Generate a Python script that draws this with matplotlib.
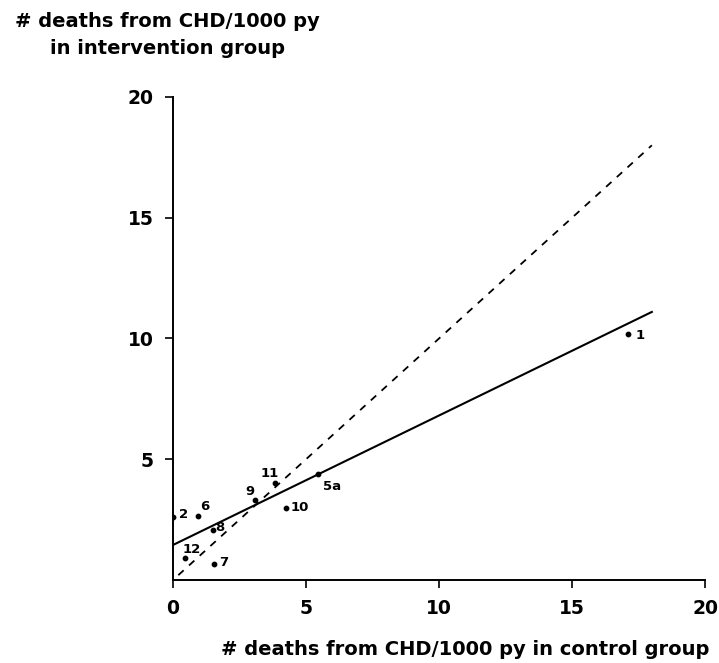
import matplotlib
matplotlib.use("Agg")
import matplotlib.pyplot as plt

# data
labels = ["1", "2", "6", "8", "12", "7", "9", "11", "5a", "10"]
control = [17.1, 0.0, 0.95, 1.5, 0.45, 1.55, 3.1, 3.85, 5.45, 4.25]
intervention = [10.2, 2.6, 2.65, 2.05, 0.9, 0.65, 3.3, 4.0, 4.4, 3.0]
# label offsets in points (dx, dy)
offsets = [(5.5, -1.5), (4.3, 2), (1.5, 7), (1.5, 2), (-1.5, 6.5), (3.5, 1.5),
           (-7, 6), (-11, 7), (3.5, -9), (3.5, 0)]

fit_x = [0, 18]
fit_y = [1.45, 11.1]
ident_x = [0.2, 18]
ident_y = [0.2, 18]

xticks = [0, 5, 10, 15, 20]
yticks = [5, 10, 15, 20]

plt.rcParams["font.family"] = "DejaVu Sans"
fig = plt.figure(figsize=(7.19, 6.63), dpi=100)
ax = fig.add_axes([0.2406, 0.1252, 0.74, 0.7285])

ax.plot(fit_x, fit_y, color="black", lw=1.5)
ax.plot(ident_x, ident_y, color="black", lw=1.3, linestyle=(0, (4, 4)))
ax.scatter(control, intervention, s=10, marker="o", color="black", zorder=3)
for lab, x, y, (dx, dy) in zip(labels, control, intervention, offsets):
    ax.annotate(lab, (x, y), xytext=(dx, dy), textcoords="offset points",
                fontsize=9.5, fontweight="bold", ha="left", va="center")

ax.set_xlim(0, 20)
ax.set_ylim(0, 20)
ax.set_xticks(xticks)
ax.set_yticks(yticks)
ax.spines["top"].set_visible(False)
ax.spines["right"].set_visible(False)
ax.spines["left"].set_linewidth(1.4)
ax.spines["bottom"].set_linewidth(1.4)
ax.tick_params(labelsize=13.5, length=6, width=1.2, pad=8)
for t in ax.get_xticklabels() + ax.get_yticklabels():
    t.set_fontweight("bold")

fig.text(0.233, 0.947, "# deaths from CHD/1000 py\nin intervention group",
         ha="center", va="center", fontsize=14, fontweight="bold", linespacing=1.55)
fig.text(0.647, 0.02, "# deaths from CHD/1000 py in control group",
         ha="center", va="center", fontsize=14, fontweight="bold")

fig.savefig("out.png", dpi=100)
